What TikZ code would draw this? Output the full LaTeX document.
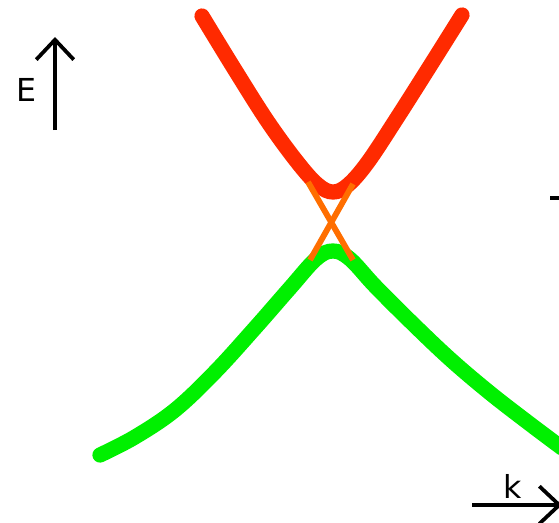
\documentclass[tikz,border=0pt]{standalone}
\usepackage{fontspec}
\setmainfont{DejaVu Sans}
\usetikzlibrary{arrows.meta}

\begin{document}
\begin{tikzpicture}[x=0.03cm, y=-0.03cm,
        >={Straight Barb[length=17pt, width=32pt]},
        axis/.style={->, line width=3.2pt},
        upperband/.style={line width=13pt, line cap=round, color=bandred},
        lowerband/.style={line width=13pt, line cap=round, color=bandgreen},
        cross/.style={line width=5pt, color=crossorange},
        lbl/.style={font=\fontsize{27}{30}\selectfont, inner sep=0pt},
      ]
        \definecolor{bandred}{RGB}{255,42,0}
        \definecolor{bandgreen}{RGB}{0,240,0}
        \definecolor{crossorange}{RGB}{255,110,0}
        \useasboundingbox (0,0) rectangle (559,522);

        % energy axis
        \coordinate (e0) at (55,130);
        \coordinate (e1) at (55,37);
        \draw[axis] (e0) -- (e1);
        \node[lbl] (elbl) at (26,90) {E};

        % momentum axis
        \coordinate (k0) at (472,505);
        \coordinate (k1) at (562,505);
        \draw[axis] (k0) -- (k1);
        \node[lbl] (klbl) at (513,486) {k};

        % cut-off mark on the right
        \coordinate (m0) at (550,198);
        \coordinate (m1) at (560,198);
        \draw[line width=3pt] (m0) -- (m1);

        % bands
        \draw[lowerband] plot[smooth, tension=0.6] coordinates {(100,455) (135,437) (175,410) (215,372) (255,328) (290,288) (316,259) (333,251) (350,259) (375,286) (410,321) (450,359) (490,393) (530,424) (562,448)};
        \draw[upperband] plot[smooth, tension=0.6] coordinates {(202,16) (235,70) (268,122) (298,163) (318,185) (333,192) (348,185) (368,162) (397,118) (430,66) (462,15)};

        % crossing
        \coordinate (c1) at (308,182);
        \coordinate (c2) at (353,260);
        \coordinate (c3) at (353,184);
        \coordinate (c4) at (310,260);
        \draw[cross] (c1) -- (c2);
        \draw[cross] (c3) -- (c4);
      \end{tikzpicture}
\end{document}
